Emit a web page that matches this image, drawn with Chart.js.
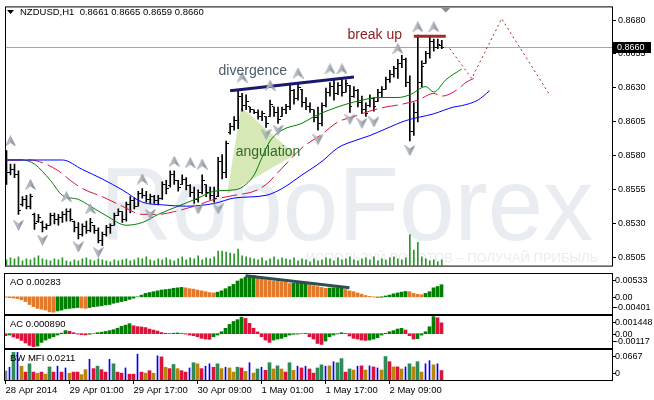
<!DOCTYPE html>
<html>
<head>
<meta charset="utf-8">
<script src="https://cdn.jsdelivr.net/npm/chart.js@4.4.1/dist/chart.umd.min.js"></script>
<style>
body { margin: 0; background: #fff; }
#wrap { position: relative; width: 654px; height: 400px; overflow: hidden; background: #fff; }
canvas { position: absolute; left: 0; }
</style>
</head>
<body>
<div id="wrap">
  <canvas id="main" width="654" height="273" style="top:0"></canvas>
  <canvas id="ao" width="654" height="44" style="top:272px"></canvas>
  <canvas id="ac" width="654" height="35" style="top:315px"></canvas>
  <canvas id="mfi" width="654" height="51" style="top:349px"></canvas>
</div>
<script>
// NZDUSD H1 bars, 28 Apr 2014 09:00 .. 2 May 22:00
const opens = [
  0.8578,0.8568,0.8570,0.8566,0.8544,0.8548,0.8543,0.8537,0.8532,0.8531,
  0.8527,0.8529,0.8536,0.8533,0.8535,0.8537,0.8539,0.8532,0.8527,0.8522,
  0.8528,0.8525,0.8529,0.8525,0.8518,0.8522,0.8527,0.8529,0.8536,0.8539,
  0.8533,0.8544,0.8547,0.8543,0.8552,0.8551,0.8548,0.8550,0.8547,0.8549,
  0.8559,0.8558,0.8566,0.8562,0.8559,0.8563,0.8558,0.8553,0.8548,0.8553,
  0.8559,0.8553,0.8551,0.8550,0.8576,0.8568,0.8597,0.8602,0.8606,0.8624,
  0.8617,0.8616,0.8614,0.8612,0.8609,0.8609,0.8609,0.8616,0.8612,0.8609,
  0.8614,0.8616,0.8628,0.8622,0.8629,0.8619,0.8616,0.8614,0.8608,0.8604,
  0.8617,0.8627,0.8631,0.8626,0.8632,0.8627,0.8632,0.8624,0.8628,0.8619,
  0.8614,0.8617,0.8622,0.8620,0.8627,0.8629,0.8636,0.8640,0.8644,0.8648,
  0.8651,0.8634,0.8598,0.8612,0.8634,0.8648,0.8655,0.8664,0.8660,0.8661
];
const highs = [
  0.8584,0.8574,0.8574,0.8569,0.8550,0.8551,0.8552,0.8538,0.8537,0.8532,
  0.8530,0.8538,0.8538,0.8537,0.8539,0.8541,0.8541,0.8532,0.8531,0.8530,
  0.8532,0.8534,0.8529,0.8527,0.8524,0.8529,0.8530,0.8538,0.8541,0.8539,
  0.8546,0.8550,0.8549,0.8554,0.8556,0.8554,0.8552,0.8551,0.8551,0.8561,
  0.8562,0.8569,0.8569,0.8562,0.8566,0.8564,0.8559,0.8557,0.8555,0.8566,
  0.8559,0.8557,0.8557,0.8579,0.8581,0.8591,0.8604,0.8609,0.8629,0.8626,
  0.8625,0.8616,0.8614,0.8614,0.8613,0.8609,0.8621,0.8616,0.8616,0.8616,
  0.8618,0.8632,0.8629,0.8634,0.8629,0.8623,0.8619,0.8614,0.8616,0.8619,
  0.8630,0.8634,0.8637,0.8634,0.8637,0.8636,0.8632,0.8631,0.8629,0.8624,
  0.8619,0.8625,0.8623,0.8629,0.8631,0.8638,0.8643,0.8646,0.8651,0.8654,
  0.8652,0.8639,0.8619,0.8669,0.8650,0.8657,0.8668,0.8666,0.8666,0.8665
];
const lows = [
  0.8559,0.8566,0.8564,0.8537,0.8543,0.8541,0.8541,0.8526,0.8531,0.8524,
  0.8526,0.8529,0.8530,0.8529,0.8531,0.8532,0.8532,0.8524,0.8519,0.8521,
  0.8523,0.8524,0.8523,0.8516,0.8514,0.8521,0.8523,0.8529,0.8536,0.8531,
  0.8532,0.8538,0.8541,0.8543,0.8549,0.8546,0.8545,0.8545,0.8544,0.8548,
  0.8552,0.8557,0.8559,0.8554,0.8559,0.8555,0.8550,0.8545,0.8546,0.8552,
  0.8550,0.8548,0.8546,0.8550,0.8563,0.8564,0.8596,0.8599,0.8600,0.8613,
  0.8614,0.8612,0.8611,0.8607,0.8606,0.8601,0.8609,0.8609,0.8604,0.8609,
  0.8611,0.8614,0.8618,0.8621,0.8616,0.8614,0.8612,0.8605,0.8599,0.8602,
  0.8616,0.8624,0.8621,0.8625,0.8624,0.8627,0.8612,0.8623,0.8616,0.8611,
  0.8609,0.8616,0.8613,0.8620,0.8623,0.8629,0.8634,0.8638,0.8637,0.8645,
  0.8631,0.8591,0.8595,0.8605,0.8631,0.8648,0.8652,0.8657,0.8659,0.8659
];
const closes = [
  0.8568,0.8570,0.8566,0.8540,0.8548,0.8543,0.8550,0.8530,0.8535,0.8527,
  0.8529,0.8536,0.8533,0.8535,0.8537,0.8539,0.8533,0.8527,0.8522,0.8528,
  0.8525,0.8531,0.8525,0.8518,0.8522,0.8527,0.8529,0.8536,0.8539,0.8533,
  0.8544,0.8547,0.8543,0.8552,0.8551,0.8548,0.8550,0.8547,0.8549,0.8559,
  0.8556,0.8566,0.8562,0.8557,0.8563,0.8558,0.8553,0.8548,0.8553,0.8562,
  0.8553,0.8551,0.8549,0.8576,0.8568,0.8589,0.8602,0.8606,0.8624,0.8617,
  0.8620,0.8614,0.8612,0.8609,0.8611,0.8604,0.8618,0.8612,0.8607,0.8614,
  0.8616,0.8628,0.8622,0.8630,0.8619,0.8616,0.8614,0.8608,0.8604,0.8617,
  0.8627,0.8631,0.8626,0.8632,0.8627,0.8633,0.8616,0.8628,0.8619,0.8614,
  0.8611,0.8622,0.8616,0.8627,0.8629,0.8636,0.8640,0.8644,0.8648,0.8651,
  0.8634,0.8598,0.8612,0.8634,0.8646,0.8655,0.8664,0.8660,0.8662,0.8660
];
const volumes = [
  600,800,700,900,500,700,600,800,1000,700,
  600,500,700,600,800,500,400,600,500,700,
  800,600,500,700,600,500,400,600,500,600,
  700,500,600,800,700,900,600,500,700,600,
  800,600,500,700,900,600,800,700,1000,600,
  800,700,900,1500,1500,1400,1300,1200,1700,1000,
  900,800,700,600,800,500,700,900,600,800,
  700,600,800,500,700,600,400,700,500,600,
  800,700,500,800,600,700,900,600,500,700,
  800,600,900,500,700,600,800,900,700,600,
  800,3200,1600,2400,900,700,500,600,400,600
];

// Alligator lines (jaw / teeth / lips), read at bar indices
const jawIdx  = [0,14,19,24,29,34,39,45,52,57,65,69,74,79,83,87,91,95,100,107,112,114,118,121];
const jawVals = [0.8577,0.8577,0.8570,0.8563,0.8555,0.8546,0.8544,0.8543,0.8545,0.8549,0.8551,0.8556,
                 0.8566,0.8576,0.8586,0.8591,0.8595,0.8600,0.8606,0.8611,0.8616,0.8617,0.8621,0.8628];
const teethIdx  = [0,6,9,13,16,19,24,29,34,38,42,47,52,57,62,65,69,74,79,83,87,91,95,99,103,107,109,113,115,117];
const teethVals = [0.8577,0.8577,0.8575,0.8569,0.8562,0.8556,0.8550,0.8543,0.8537,0.8537,0.8539,0.8543,
                   0.8548,0.8551,0.8554,0.8559,0.8571,0.8586,0.8596,0.8605,0.8609,0.8613,0.8616,0.8618,
                   0.8621,0.8626,0.8624,0.8629,0.8634,0.8637];
const lipsIdx  = [0,4,7,11,14,18,21,25,30,34,38,43,48,52,57,59,62,64,66,69,74,77,81,85,89,93,98,101,105,107,110,114];
const lipsVals = [0.8577,0.8577,0.8574,0.8562,0.8551,0.8548,0.8543,0.8536,0.8529,0.8531,0.8537,0.8543,
                  0.8549,0.8554,0.8555,0.8557,0.8566,0.8579,0.8591,0.8599,0.8604,0.8609,0.8614,0.8618,
                  0.8621,0.8623,0.8623,0.8625,0.8631,0.8627,0.8636,0.8644];

// drawn objects
const forecastIdx  = [111,116.5,124,136];
const forecastVals = [0.8659,0.8637,0.8681,0.8625];
const divIdx  = [56,87];
const divVals = [0.8628,0.8638];
const breakIdx  = [102,110];
const breakVals = [0.8668,0.8668];
const angleIdx  = [55.25,58.75,72.25,55.25];
const angleVals = [0.8552,0.8616,0.8581,0.8552];

// fractals
const fractalUpIdx  = [1,6,15,21,34,42,46,49,59,66,73,81,84,98,103,107];
const fractalUpVals = [0.8591,0.8559,0.8550,0.8541,0.8563,0.8576,0.8575,0.8574,0.8638,0.8632,0.8641,0.8644,0.8644,0.8659,0.8675,0.8675];
const fractalDownIdx  = [3,9,18,23,36,48,53,65,68,78,86,89,92,101];
const fractalDownVals = [0.8529,0.8518,0.8513,0.8509,0.8537,0.8541,0.8541,0.8596,0.8599,0.8592,0.8607,0.8604,0.8605,0.8584];

// Awesome Oscillator
const aoVals = [
  -0.0001,-0.0002,-0.0003,-0.0004,-0.0007,-0.0011,-0.0018,-0.0023,-0.0027,-0.0029,
  -0.0031,-0.0035,-0.0036,-0.0033,-0.0031,-0.0028,-0.0027,-0.0026,-0.0025,-0.0026,
  -0.0027,-0.0025,-0.0023,-0.0022,-0.0021,-0.0019,-0.0018,-0.0015,-0.0013,-0.0011,
  -0.0009,-0.0006,-0.0003,0.0000,0.0004,0.0008,0.0010,0.0012,0.0014,0.0016,
  0.0017,0.0018,0.0020,0.0021,0.0022,0.0021,0.0019,0.0018,0.0016,0.0014,
  0.0012,0.0010,0.0009,0.0011,0.0014,0.0019,0.0024,0.0029,0.0037,0.0042,
  0.0046,0.00485,0.0050,0.0045,0.0043,0.0040,0.0038,0.0037,0.0036,0.0035,
  0.0034,0.0031,0.00315,0.0032,0.00325,0.0033,0.0029,0.0026,0.0024,0.0022,
  0.0020,0.00205,0.0021,0.00215,0.0022,0.0017,0.0014,0.0012,0.0009,0.0006,
  0.0003,0.0001,-0.00005,-0.0002,-0.0001,0.0002,0.0004,0.0007,0.0009,0.0011,
  0.00125,0.0012,0.0008,0.0006,0.0005,0.0008,0.0012,0.0021,0.0024,0.00283
];
const aoLevels = [0.00533, 0, -0.00401];
const aoDivIdx  = [60,86];
const aoDivVals = [0.0049,0.0021];

// Accelerator Oscillator
const acVals = [
  -0.00016,-0.00011,-0.00027,-0.00038,-0.00055,-0.00076,-0.00096,-0.00106,-0.00101,-0.00071,
  -0.00052,-0.00038,-0.00025,-0.00011,0.00005,0.00025,0.00020,0.00008,-0.00003,-0.00008,
  -0.00010,-0.00005,0.00000,0.00008,0.00012,0.00018,0.00025,0.00033,0.00045,0.00060,
  0.00070,0.00082,0.00065,0.00058,0.00055,0.00050,0.00038,0.00030,0.00022,0.00010,
  0.00003,0.00001,0.00004,0.00006,0.00002,-0.00003,-0.00011,-0.00016,-0.00025,-0.00038,
  -0.00044,-0.00046,-0.00025,-0.00011,0.00016,0.00044,0.00076,0.00100,0.00115,0.00135,
  0.00125,0.00085,0.00045,0.00015,-0.00025,-0.00052,-0.00071,-0.00052,-0.00044,-0.00038,
  -0.00025,-0.00011,-0.00005,-0.00003,0.00000,0.00002,-0.00025,-0.00044,-0.00080,-0.00088,
  -0.00060,-0.00025,-0.00011,-0.00002,0.00008,0.00002,-0.00019,-0.00038,-0.00044,-0.00052,
  -0.00055,-0.00052,-0.00044,-0.00033,-0.00011,0.00003,0.00016,0.00025,0.00038,0.00044,
  0.00030,-0.00016,-0.00044,-0.00040,-0.00011,0.00016,0.00057,0.00140,0.00130,0.00089
];
const acLevels = [0.001448, 0, -0.00117];

// Market Facilitation Index, bar type: g green, b fake, f fade, s squat, n none
const mfiVals = [
  0.0200,0.0284,0.0614,0.0614,0.0307,0.0176,0.0360,0.0176,0.0150,0.0176,
  0.0130,0.0291,0.0176,0.0307,0.0176,0.0268,0.0150,0.0176,0.0176,0.0120,
  0.0230,0.0460,0.0253,0.0307,0.0230,0.0176,0.0460,0.0360,0.0176,0.0153,
  0.0268,0.0130,0.0130,0.0575,0.0176,0.0153,0.0207,0.0150,0.0537,0.0514,
  0.0284,0.0253,0.0345,0.0253,0.0207,0.0176,0.0268,0.0384,0.0360,0.0253,
  0.0307,0.0360,0.0284,0.0360,0.0253,0.0284,0.0268,0.0176,0.0284,0.0268,
  0.0192,0.0384,0.0153,0.0245,0.0284,0.0215,0.0384,0.0245,0.0314,0.0245,
  0.0176,0.0384,0.0215,0.0307,0.0268,0.0307,0.0245,0.0153,0.0268,0.0337,
  0.0307,0.0314,0.0407,0.0384,0.0476,0.0176,0.0245,0.0222,0.0307,0.0314,
  0.0222,0.0314,0.0291,0.0268,0.0222,0.0522,0.0407,0.0291,0.0291,0.0245,
  0.0291,0.0360,0.0291,0.0407,0.0176,0.0360,0.0430,0.0337,0.0360,0.0211
];
const mfiTypes = 'nbgbfsgsfs' + 'fgsbsbfssf' + 'fbsgssbgss' + 'bssbsfsfbs' + 'fsgfssbgfs' +
                 'bbsgfbffgs' + 'fbfgbsgfgf' + 'sgfbsbssgg' + 'bfbggsgfbs' + 'fbsbfgsfsf' + 'bgfgfbbfbs';
const mfiLevels = [0.0667, 0];

const priceTicks = [0.8505, 0.8530, 0.8555, 0.8580, 0.8605, 0.8630, 0.8655, 0.8680];
const timeTickIdx = [0, 16, 32, 48, 64, 80, 96];
const timeLabels = ['28 Apr 2014', '29 Apr 01:00', '29 Apr 17:00', '30 Apr 09:00', '1 May 01:00', '1 May 17:00', '2 May 09:00'];
const shiftIdx = 110;

// ---- layout ----
const X_MIN = -0.125, X_MAX = 151.625;
const FONT = '"Liberation Sans", Arial, sans-serif';
Chart.defaults.font.family = FONT;
const last = closes.length - 1;
const idx = closes.map((_, i) => i);
const xy = (xs, ys) => xs.map((x, k) => ({ x: x, y: ys[k] }));

function arrowImage(up) {
    const c = document.createElement('canvas');
    c.width = 11; c.height = 11;
    const g = c.getContext('2d');
    g.beginPath();
    if (up) { g.moveTo(5.5, 0.5); g.lineTo(10.5, 10.5); g.lineTo(5.5, 7); g.lineTo(0.5, 10.5); }
    else { g.moveTo(5.5, 10.5); g.lineTo(10.5, 0.5); g.lineTo(5.5, 4); g.lineTo(0.5, 0.5); }
    g.closePath();
    const grad = g.createLinearGradient(0, 0, 11, 0);
    grad.addColorStop(0, '#dde0e5');
    grad.addColorStop(0.5, '#a9b0b9');
    grad.addColorStop(1, '#6b7480');
    g.fillStyle = grad;
    g.fill();
    g.strokeStyle = '#87909a';
    g.lineWidth = 0.6;
    g.stroke();
    return c;
}

function tickImage(left) {
    const c = document.createElement('canvas');
    c.width = 5; c.height = 1;
    const g = c.getContext('2d');
    g.fillStyle = '#000';
    g.fillRect(left ? 0 : 3, 0, 2, 1);
    return c;
}

function drawFrame(chart) {
    const { ctx, chartArea: a } = chart;
    ctx.save();
    ctx.strokeStyle = '#000';
    ctx.lineWidth = 1;
    ctx.strokeRect(a.left - 0.5, a.top - 0.5, a.right - a.left + 1, a.bottom - a.top + 1);
    ctx.restore();
}

function panelPlugin(title, levels, zeroText) {
    return {
        id: 'panel',
        afterDraw(chart) {
            drawFrame(chart);
            const { ctx, chartArea: a } = chart;
            const y = chart.scales.y;
            ctx.save();
            ctx.fillStyle = '#000';
            ctx.font = '9.5px ' + FONT;
            ctx.textBaseline = 'middle';
            ctx.fillText(title, a.left + 5, a.top + 8.5);
            ctx.font = '9px ' + FONT;
            levels.forEach(v => {
                const py = Math.min(Math.max(y.getPixelForValue(v), a.top + 6), a.bottom - 7);
                ctx.fillRect(a.right, Math.round(py), 4, 1);
                ctx.fillText(v === 0 ? zeroText : String(v), a.right + 3, py + 0.5);
            });
            ctx.restore();
        }
    };
}

const notes = [
    { text: 'divergence', i: 53.1, p: 0.86393, color: '#4b5b6b' },
    { text: 'angulation', i: 57.4, p: 0.85800, color: '#2f6b2a' },
    { text: 'break up', i: 85.4, p: 0.86664, color: '#8b1c1c' }
];

const mainDecor = {
    id: 'mainDecor',
    beforeDatasetsDraw(chart) {
        const { ctx, chartArea: a, scales: { y } } = chart;
        ctx.save();
        ctx.beginPath();
        ctx.rect(a.left, a.top, a.right - a.left, a.bottom - a.top);
        ctx.clip();
        ctx.fillStyle = '#e9ecf1';
        ctx.font = '104px ' + FONT;
        const w = ctx.measureText('RoboForex').width;
        ctx.save();
        ctx.translate(100, 240);
        ctx.scale(493 / w, 1);
        ctx.fillText('RoboForex', 0, 0);
        ctx.restore();
        ctx.font = '13px ' + FONT;
        ctx.textAlign = 'right';
        ctx.fillText('ИСПОЛЬЗУЙ РОБОТОВ – ПОЛУЧАЙ ПРИБЫЛЬ', 598, 262);
        const py = Math.round(y.getPixelForValue(closes[last])) + 0.5;
        ctx.strokeStyle = '#a3a8b0';
        ctx.lineWidth = 1;
        ctx.beginPath();
        ctx.moveTo(a.left, py);
        ctx.lineTo(a.right, py);
        ctx.stroke();
        ctx.restore();
    },
    afterDatasetsDraw(chart) {
        const { ctx, scales: { x, y } } = chart;
        ctx.save();
        ctx.font = '14px ' + FONT;
        ctx.textBaseline = 'alphabetic';
        notes.forEach(n => {
            ctx.fillStyle = n.color;
            ctx.fillText(n.text, x.getPixelForValue(n.i), y.getPixelForValue(n.p));
        });
        ctx.restore();
    },
    afterDraw(chart) {
        drawFrame(chart);
        const { ctx, chartArea: a, scales: { x, y } } = chart;
        ctx.save();
        // header
        ctx.fillStyle = '#000';
        ctx.beginPath();
        ctx.moveTo(7, 10); ctx.lineTo(14, 10); ctx.lineTo(10.5, 14); ctx.closePath();
        ctx.fill();
        ctx.font = '9.5px ' + FONT;
        ctx.textBaseline = 'middle';
        const f = v => v.toFixed(4);
        ctx.fillText('NZDUSD,H1  ' + [opens[last], highs[last], lows[last], closes[last]].map(f).join(' '), 20, 12.5);
        // chart shift marker
        const sx = x.getPixelForValue(shiftIdx);
        ctx.fillStyle = '#8c8c8c';
        ctx.beginPath();
        ctx.moveTo(sx - 5, a.top); ctx.lineTo(sx + 5, a.top); ctx.lineTo(sx, a.top + 5); ctx.closePath();
        ctx.fill();
        // current price box
        const py = Math.round(y.getPixelForValue(closes[last]));
        ctx.fillStyle = '#000';
        ctx.fillRect(a.right + 1, py - 5, 38, 11);
        ctx.fillStyle = '#fff';
        ctx.font = '9px ' + FONT;
        ctx.fillText(f(closes[last]), a.right + 5, py + 0.5);
        ctx.restore();
    }
};

const common = (padding) => ({
    responsive: false,
    animation: false,
    events: [],
    layout: { padding: padding },
    plugins: { legend: { display: false }, tooltip: { enabled: false } }
});
const hiddenX = { type: 'linear', min: X_MIN, max: X_MAX, offset: false, display: false };

// ---- main price window ----
new Chart(document.getElementById('main'), {
    type: 'bar',
    data: {
        datasets: [
            { type: 'line', data: xy(angleIdx, angleVals), fill: 'shape', backgroundColor: '#d6e8b6',
              borderWidth: 0, pointRadius: 0, order: 10 },
            { type: 'bar', yAxisID: 'yv', data: idx.map(i => ({ x: i, y: volumes[i] })),
              backgroundColor: '#2a962a', barThickness: 1, grouped: false, order: 9 },
            { type: 'bar', data: idx.map(i => ({ x: i, y: [lows[i], highs[i]] })),
              backgroundColor: '#000', barThickness: 1, grouped: false, order: 4 },
            { type: 'scatter', data: idx.map(i => ({ x: i, y: opens[i] })), pointStyle: tickImage(true), pointRadius: 1, order: 4 },
            { type: 'scatter', data: idx.map(i => ({ x: i, y: closes[i] })), pointStyle: tickImage(false), pointRadius: 1, order: 4 },
            { type: 'line', data: xy(jawIdx, jawVals), borderColor: '#0000ff', borderWidth: 1, pointRadius: 0,
              cubicInterpolationMode: 'monotone', order: 3 },
            { type: 'line', data: xy(teethIdx, teethVals), borderColor: '#dc143c', borderWidth: 1, pointRadius: 0,
              borderDash: [16, 5], cubicInterpolationMode: 'monotone', order: 3 },
            { type: 'line', data: xy(lipsIdx, lipsVals), borderColor: '#008000', borderWidth: 1, pointRadius: 0,
              cubicInterpolationMode: 'monotone', order: 3 },
            { type: 'line', data: xy(forecastIdx, forecastVals), borderColor: '#a52a2a', borderWidth: 1,
              borderDash: [2, 3], pointRadius: 0, order: 2 },
            { type: 'line', data: xy(divIdx, divVals), borderColor: '#191970', borderWidth: 3, pointRadius: 0, order: 1 },
            { type: 'line', data: xy(breakIdx, breakVals), borderColor: '#a02a2a', borderWidth: 3, pointRadius: 0, order: 1 },
            { type: 'scatter', data: xy(fractalUpIdx, fractalUpVals), pointStyle: arrowImage(true), pointRadius: 5, order: 0 },
            { type: 'scatter', data: xy(fractalDownIdx, fractalDownVals), pointStyle: arrowImage(false), pointRadius: 5, order: 0 }
        ]
    },
    options: Object.assign(common({ left: 5, top: 5, right: 0, bottom: 2 }), {
        scales: {
            x: hiddenX,
            y: {
                position: 'right', min: 0.849929, max: 0.868929,
                afterFit: axis => { axis.width = 42; },
                afterBuildTicks: axis => { axis.ticks = priceTicks.map(v => ({ value: v })); },
                ticks: { callback: v => v.toFixed(4), color: '#000', font: { size: 9 }, padding: 2, autoSkip: false },
                grid: { drawOnChartArea: false, drawTicks: true, tickLength: 4, color: '#000' },
                border: { display: false }
            },
            yv: { display: false, min: 0, max: 26600 }
        }
    }),
    plugins: [mainDecor]
});

// ---- AO ----
new Chart(document.getElementById('ao'), {
    type: 'bar',
    data: {
        datasets: [
            { type: 'line', data: xy(aoDivIdx, aoDivVals), borderColor: '#2f4f4f', borderWidth: 3, pointRadius: 0, order: 0 },
            { data: idx.map(i => ({ x: i, y: aoVals[i] })), barThickness: 3, grouped: false, order: 1,
              backgroundColor: aoVals.map((v, i) => v > aoVals[Math.max(i - 1, 0)] && i > 0 ? '#007f00' : '#e27a2a') }
        ]
    },
    options: Object.assign(common({ left: 5, top: 2, right: 42, bottom: 2 }), {
        scales: { x: hiddenX, y: { display: false, min: aoLevels[2], max: aoLevels[0] } }
    }),
    plugins: [panelPlugin('AO ' + aoVals[last].toFixed(5), aoLevels, '0.00')]
});

// ---- AC ----
new Chart(document.getElementById('ac'), {
    type: 'bar',
    data: {
        datasets: [
            { data: idx.map(i => ({ x: i, y: acVals[i] })), barThickness: 3, grouped: false,
              backgroundColor: acVals.map((v, i) => v > acVals[Math.max(i - 1, 0)] && i > 0 ? '#007f00' : '#dc143c') }
        ]
    },
    options: Object.assign(common({ left: 5, top: 1, right: 42, bottom: 2 }), {
        scales: { x: hiddenX, y: { display: false, min: acLevels[2], max: acLevels[0] } }
    }),
    plugins: [panelPlugin('AC ' + acVals[last].toFixed(6), acLevels, '0.00')]
});

// ---- BW MFI ----
const mfiColors = { g: '#2e8b57', b: '#0000ff', f: '#b8860b', s: '#dc143c', n: '#808080' };
new Chart(document.getElementById('mfi'), {
    type: 'bar',
    data: {
        datasets: [
            { data: idx.map(i => ({ x: i, y: mfiTypes[i] === 'b' ? null : mfiVals[i] })), barThickness: 3, grouped: false,
              backgroundColor: idx.map(i => mfiColors[mfiTypes[i]]) },
            { data: idx.map(i => ({ x: i, y: mfiTypes[i] === 'b' ? mfiVals[i] : null })), barThickness: 1, grouped: false,
              backgroundColor: mfiColors.b }
        ]
    },
    options: Object.assign(common({ left: 5, top: 1, right: 42, bottom: 0 }), {
        scales: {
            x: {
                type: 'linear', min: X_MIN, max: X_MAX, offset: false, position: 'bottom',
                afterFit: axis => { axis.height = 20; },
                afterBuildTicks: axis => { axis.ticks = timeTickIdx.map(v => ({ value: v })); },
                ticks: { callback: (v, k) => timeLabels[k], align: 'start', autoSkip: false, maxRotation: 0,
                         color: '#000', font: { size: 9.5 }, padding: 1 },
                grid: { drawOnChartArea: false, drawTicks: true, tickLength: 4, color: '#000', offset: false },
                border: { display: false }
            },
            y: { display: false, min: 0, max: mfiLevels[0] }
        }
    }),
    plugins: [panelPlugin('BW MFI ' + mfiVals[last].toFixed(4), mfiLevels, '0')]
});
</script>
</body>
</html>
